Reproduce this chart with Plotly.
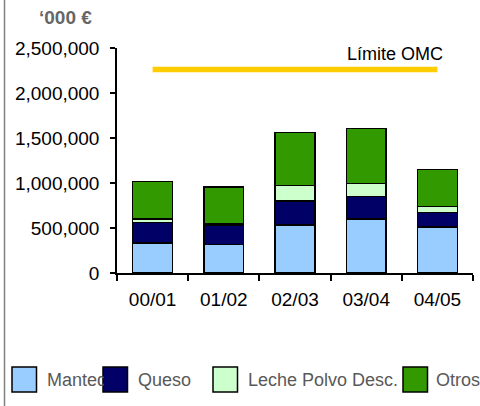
import plotly.graph_objects as go

categories = ["00/01", "01/02", "02/03", "03/04", "04/05"]
mantequilla = [335000, 316000, 534000, 600000, 512000]
queso = [225000, 218000, 266000, 248000, 158000]
leche_polvo = [40000, 10000, 173000, 148000, 67000]
otros = [418000, 414000, 587000, 611000, 413000]
limite_omc = [2260000, 2260000, 2260000, 2260000, 2260000]

series_names = ["Mantequilla", "Queso", "Leche Polvo Desc.", "Otros"]
series_values = [mantequilla, queso, leche_polvo, otros]
series_colors = ["#99CCFF", "#000066", "#CCFFCC", "#339900"]

FONT = "Arial, Liberation Sans, sans-serif"

fig = go.Figure()
for name, vals, col in zip(series_names, series_values, series_colors):
    fig.add_trace(go.Bar(
        x=categories, y=vals, name=name, width=0.56,
        marker=dict(color=col, line=dict(color="black", width=1.5)),
        showlegend=False,
    ))

fig.add_trace(go.Scatter(
    x=categories, y=limite_omc, mode="lines", name="Límite OMC",
    line=dict(color="#FFCC00", width=5.5), showlegend=False,
))

# pixel -> paper helpers (layout only)
L, R, T, B = 117, 473, 48, 273
def px(x):
    return (x - L) / (R - L)
def py(y):
    return (B - y) / (B - T)

shapes = []
annotations = []

# left frame line
shapes.append(dict(type="line", xref="paper", yref="paper",
                   x0=px(4.5), x1=px(4.5), y0=py(-5), y1=py(410),
                   line=dict(color="#808080", width=1.5)))

# manual legend
sq_x = [12, 103, 213, 403]
txt_x = [45, 136, 246, 434]
txt_w = [57, None, None, None]
for i, (name, col) in enumerate(zip(series_names, series_colors)):
    ann = dict(xref="paper", yref="paper", x=px(txt_x[i]), y=py(380),
               xanchor="left", yanchor="middle", align="left",
               text=name, showarrow=False,
               font=dict(family=FONT, size=18, color="#595959"))
    if txt_w[i]:
        ann["width"] = txt_w[i]
    annotations.append(ann)
for i, col in enumerate(series_colors):
    shapes.append(dict(type="rect", xref="paper", yref="paper",
                       x0=px(sq_x[i]), x1=px(sq_x[i] + 24.5),
                       y0=py(392), y1=py(367),
                       fillcolor=col, line=dict(color="black", width=1.5)))

# unit label
annotations.append(dict(xref="paper", yref="paper", x=px(37), y=py(17.5),
                        xanchor="left", yanchor="middle", showarrow=False,
                        text="<b>‘000 €</b>",
                        font=dict(family=FONT, size=19, color="#666666")))

# limit label
annotations.append(dict(xref="x", yref="y", x=categories[-1], y=limite_omc[-1],
                        xanchor="right", yanchor="middle", xshift=8, yshift=16,
                        showarrow=False, text="Límite OMC",
                        font=dict(family=FONT, size=18, color="black")))

fig.update_layout(
    width=480, height=406,
    margin=dict(l=L, r=480 - R, t=T, b=406 - B, pad=0),
    barmode="stack", bargap=0.44,
    plot_bgcolor="white", paper_bgcolor="white",
    font=dict(family=FONT, size=19, color="black"),
    shapes=shapes, annotations=annotations,
    xaxis=dict(showline=True, linecolor="black", linewidth=1.5,
               ticks="outside", ticklen=6, tickcolor="black", tickwidth=1.5,
               tickson="boundaries", showgrid=False,
               tickfont=dict(family=FONT, size=19, color="black"),
               ticklabelstandoff=8),
    yaxis=dict(range=[0, 2500000], dtick=500000, tickformat=",d",
               showline=True, linecolor="black", linewidth=1.5,
               ticks="outside", ticklen=5, tickcolor="black", tickwidth=1.5,
               showgrid=False, zeroline=False,
               tickfont=dict(family=FONT, size=19, color="black"),
               ticklabelstandoff=7),
)

fig.write_html(
    "out.html",
    config={"displayModeBar": False},
    post_script="document.body.style.margin='0';document.body.style.overflow='hidden';",
)
